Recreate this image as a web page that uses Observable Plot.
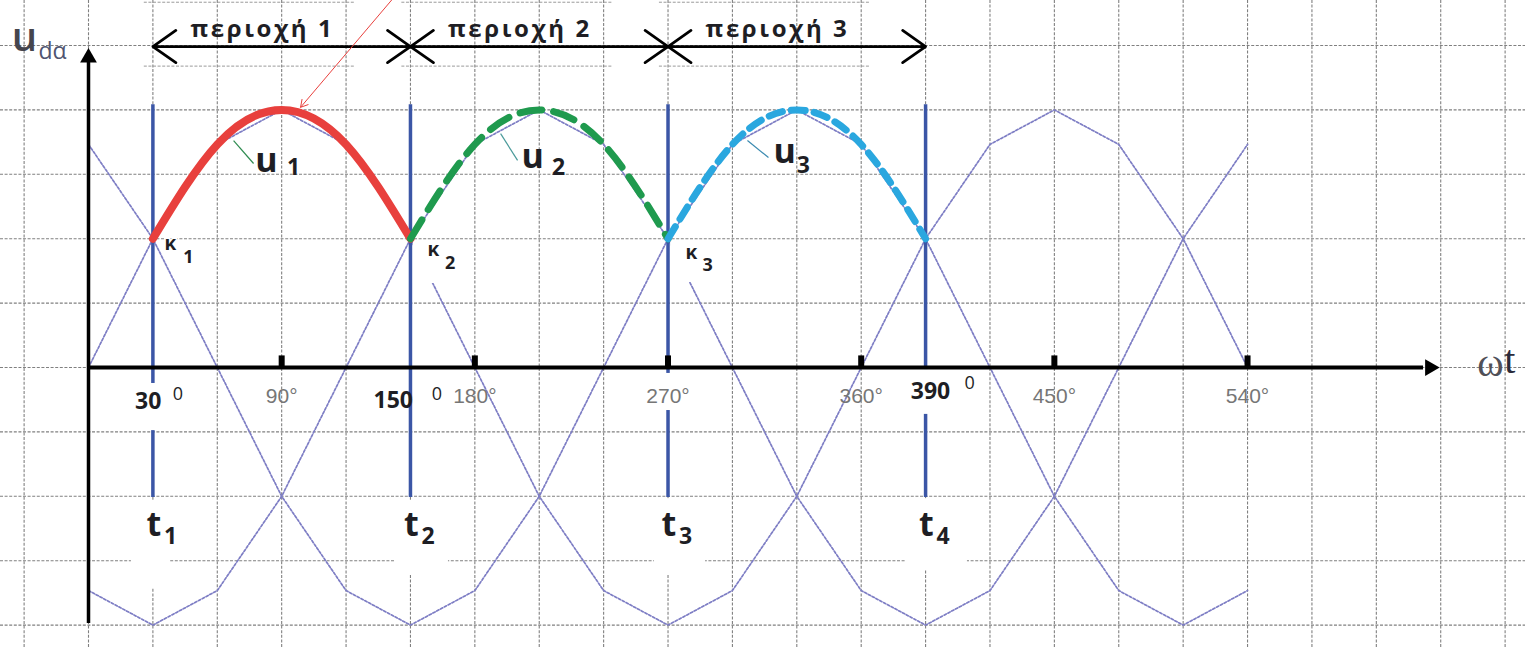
<!DOCTYPE html>
<html>
<head>
<meta charset="utf-8">
<script src="https://cdn.jsdelivr.net/npm/d3@7"></script>
<script src="https://cdn.jsdelivr.net/npm/@observablehq/plot@0.6"></script>
<style>
  html, body { margin: 0; padding: 0; background: #fff; }
  #chart svg { display: block; }
</style>
</head>
<body>
<div id="chart"></div>
<script>
// Phase angle ωt in degrees, one sample every 30°
const angles = [0, 30, 60, 90, 120, 150, 180, 210, 240, 270, 300, 330, 360, 390, 420, 450, 480, 510, 540];
// Per-unit phase voltages u1, u2, u3 at those angles
const phase1 = [0, 0.5, 0.866, 1, 0.866, 0.5, 0, -0.5, -0.866, -1, -0.866, -0.5, 0, 0.5, 0.866, 1, 0.866, 0.5, 0];
const phase2 = [-0.866, -1, -0.866, -0.5, 0, 0.5, 0.866, 1, 0.866, 0.5, 0, -0.5, -0.866, -1, -0.866, -0.5, 0, 0.5, 0.866];
const phase3 = [0.866, 0.5, 0, -0.5, -0.866, -1, -0.866, -0.5, 0, 0.5, 0.866, 1, 0.866, 0.5, 0, -0.5, -0.866, -1, -0.866];

// Commutation instants t1..t4 (degrees) and the conduction regions between them
const switchAngles = [30, 150, 270, 390];
const switchNames = ["1", "2", "3", "4"];
const regionStart = [30, 150, 270];
const regionEnd = [150, 270, 390];
const regionNames = ["περιοχή 1", "περιοχή 2", "περιοχή 3"];

// Axis ticks on ωt
const degreeTicks = [90, 180, 270, 360, 450, 540];
const degreeTickLabels = ["90°", "180°", "270°", "360°", "450°", "540°"];

// Squared paper: one column per 30°, one row per 0.25 p.u.
const gridAngles = [-30, 0, 30, 60, 90, 120, 150, 180, 210, 240, 270, 300, 330, 360, 390, 420, 450, 480, 510, 540, 570, 600, 630, 660];
const gridLevels = [-1, -0.75, -0.5, -0.25, 0, 0.25, 0.5, 0.75, 1, 1.25];

// ---- tables built from the arrays above ----
const phases = [phase1, phase2, phase3];
const phaseRows = phases.flatMap((vals, p) => angles.map((a, i) => ({a, v: vals[i], phase: p + 1})));
const conducting = (p) => angles
  .map((a, i) => ({a, v: phases[p][i]}))
  .filter(d => d.a >= regionStart[p] && d.a <= regionEnd[p]);
const u1Rows = conducting(0), u2Rows = conducting(1), u3Rows = conducting(2);

const regions = regionNames.map((name, i) => ({name, start: regionStart[i], end: regionEnd[i], mid: (regionStart[i] + regionEnd[i]) / 2}));
const regionArrows = regions.flatMap(r => [{x1: r.mid, x2: r.start}, {x1: r.mid, x2: r.end}]);
const ticks = degreeTicks.map((a, i) => ({a, label: degreeTickLabels[i]}));

const ARROW_Y = 1.246;
const font = "'Open Sans', 'Noto Sans', sans-serif";
const dark = "#1e1e24";

// White patches where labels sit over the drawing
const masks = [
  {x1: 151.4, x2: 174.2, y1: 0.326, y2: 0.493},   // around κ2
  {x1: 271.2, x2: 293.5, y1: 0.330, y2: 0.485},   // around κ3
  {x1: 19.6,  x2: 48.5,  y1: -0.245, y2: -0.062}, // 30⁰
  {x1: 259.5, x2: 280.5, y1: -0.167, y2: -0.023}, // 270°
  {x1: 380.7, x2: 418.5, y1: -0.182, y2: -0.008}, // 390⁰
  {x1: 20.0,  x2: 38.2,  y1: -0.858, y2: -0.516}, // t1
  {x1: 143.0, x2: 167.7, y1: -0.807, y2: -0.516}, // t2
  {x1: 263.7, x2: 287.5, y1: -0.807, y2: -0.509}, // t3
  {x1: 381.1, x2: 409.5, y1: -0.788, y2: -0.509}  // t4
];

function label(x, y, text, opts = {}) {
  return Plot.text([{x, y, text}], {x: "x", y: "y", text: "text", fontFamily: font, fill: dark, ...opts});
}

const gridStyle = {stroke: "#808080", strokeWidth: 1.1, strokeDasharray: "3,1.6"};

const chart = Plot.plot({
  width: 1525,
  height: 648,
  margin: 0,
  x: {domain: [-41, 669.5], axis: null},
  y: {domain: [-1.0908, 1.4247], axis: null},
  style: {background: "white"},
  marks: [
    // paper grid
    Plot.ruleX(gridAngles, gridStyle),
    Plot.ruleY(gridLevels, gridStyle),
    // outlines of the region caption boxes
    Plot.ruleY(regions, {y: 1.418, x1: d => d.start - 4, x2: d => d.mid + 34, stroke: "#9a9a9a", strokeWidth: 1, strokeDasharray: "3,1.6"}),
    Plot.ruleY(regions, {y: 1.17, x1: d => d.start - 4, x2: d => d.mid + 34, stroke: "#9a9a9a", strokeWidth: 1, strokeDasharray: "3,1.6"}),

    // the three phase voltages
    Plot.line(phaseRows, {x: "a", y: "v", z: "phase", stroke: "#7d7dc4", strokeWidth: 1.7, strokeDasharray: "2.5,1.8"}),

    // commutation instants
    Plot.ruleX(switchAngles, {y1: -0.505, y2: 1.02, stroke: "#3b56a6", strokeWidth: 3.5}),

    Plot.rect(masks, {x1: "x1", x2: "x2", y1: "y1", y2: "y2", fill: "white"}),

    // axes
    Plot.ruleY([0], {x1: 0, x2: 622, stroke: "black", strokeWidth: 4}),
    Plot.dot([0], {x: 625, y: 0, symbol: "triangle2", rotate: 90, r: 8, fill: "black", stroke: "none"}),
    Plot.ruleX([0], {y1: -0.994, y2: 1.19, stroke: "black", strokeWidth: 3.5}),
    Plot.dot([0], {x: 0, y: 1.203, symbol: "triangle2", r: 8, fill: "black", stroke: "none"}),
    Plot.ruleX(ticks, {x: "a", y1: 0, y2: 0.045, stroke: "black", strokeWidth: 6}),

    // rectified output: the most positive phase in each region
    Plot.line(u1Rows, {x: "a", y: "v", stroke: "#e8403d", strokeWidth: 8, curve: "natural"}),
    Plot.line(u2Rows, {x: "a", y: "v", stroke: "#1f9a4e", strokeWidth: 7, strokeDasharray: "22,12", curve: "natural"}),
    Plot.line(u3Rows, {x: "a", y: "v", stroke: "#2aa7df", strokeWidth: 7, strokeDasharray: "14,9", curve: "natural"}),

    // region arrows and captions
    Plot.arrow(regionArrows, {x1: "x1", x2: "x2", y1: ARROW_Y, y2: ARROW_Y, stroke: "black", strokeWidth: 2.8, headLength: 15, headAngle: 70}),
    Plot.text(regions, {x: d => d.mid - 9, y: 1.312, text: "name", fontFamily: font, fontWeight: "bold", fontSize: 24, fill: dark}),

    // pointer to the peak of u1
    Plot.arrow([0], {x1: 141.6, y1: 1.43, x2: 98.8, y2: 1.01, stroke: "#e8403d", strokeWidth: 1, headLength: 12}),

    // leaders to the phase labels
    Plot.link([{x1: 67.6, y1: 0.881, x2: 76.9, y2: 0.792}], {x1: "x1", y1: "y1", x2: "x2", y2: "y2", stroke: "#2e8b50", strokeWidth: 1.2}),
    Plot.link([{x1: 192.0, y1: 0.908, x2: 199.9, y2: 0.804}], {x1: "x1", y1: "y1", x2: "x2", y2: "y2", stroke: "#4a9a9a", strokeWidth: 1.2}),
    Plot.link([{x1: 307.0, y1: 0.881, x2: 316.8, y2: 0.815}], {x1: "x1", y1: "y1", x2: "x2", y2: "y2", stroke: "#3a8ab0", strokeWidth: 1.2}),

    // phase labels u1, u2, u3
    label(82.9, 0.80, "u", {fontSize: 34, fontWeight: "bold"}),
    label(95.5, 0.776, "1", {fontSize: 23, fontWeight: "bold"}),
    label(206.9, 0.815, "u", {fontSize: 34, fontWeight: "bold"}),
    label(219.0, 0.776, "2", {fontSize: 23, fontWeight: "bold"}),
    label(324.3, 0.835, "u", {fontSize: 34, fontWeight: "bold"}),
    label(333.0, 0.784, "3", {fontSize: 23, fontWeight: "bold"}),

    // crossing points κ
    label(38.2, 0.481, "κ", {fontSize: 19, fontWeight: "bold", stroke: "white", strokeWidth: 3, paintOrder: "stroke"}),
    label(46.5, 0.43, "1", {fontSize: 18, fontWeight: "bold"}),
    label(160.7, 0.458, "κ", {fontSize: 19, fontWeight: "bold"}),
    label(168.5, 0.406, "2", {fontSize: 18, fontWeight: "bold"}),
    label(280.9, 0.446, "κ", {fontSize: 19, fontWeight: "bold"}),
    label(288.5, 0.396, "3", {fontSize: 18, fontWeight: "bold"}),

    // instants t1..t4 under the blue lines
    Plot.text(switchAngles, {x: d => d + 0.4, y: -0.612, text: () => "t", fontFamily: font, fontSize: 34, fontWeight: "bold", fill: dark}),
    Plot.text(switchAngles, {x: d => d + 8.2, y: -0.655, text: (d, i) => switchNames[i], fontFamily: font, fontSize: 23, fontWeight: "bold", fill: dark}),

    // angle labels on ωt
    Plot.text(ticks, {x: "a", y: -0.112, text: "label", fontFamily: "'Liberation Sans', Arial, sans-serif", fontSize: 21, fill: "#767676"}),
    label(27.8, -0.132, "30", {fontSize: 23, fontWeight: "bold"}),
    label(41.6, -0.105, "0", {fontSize: 18}),
    label(142.0, -0.128, "150", {fontSize: 23, fontWeight: "bold"}),
    label(162.3, -0.105, "0", {fontSize: 18}),
    label(392.3, -0.093, "390", {fontSize: 23, fontWeight: "bold"}),
    label(410.5, -0.062, "0", {fontSize: 18}),

    // axis titles
    label(653.2, 0.0155, "ω", {fontFamily: "'Liberation Serif', serif", fontSize: 40, fill: "#505058"}),
    label(662.2, 0.03, "t", {fontFamily: "'Liberation Serif', serif", fontSize: 40, fill: "#2a2a3a"}),
    label(-29.8, 1.277, "u", {fontSize: 40, fill: "#45454d", fontWeight: 600}),
    label(-16.8, 1.226, "dα", {fontSize: 23, fill: "#4f5470"})
  ]
});

// widen the region captions to the spacing of the drawing's lettering
d3.select(chart).selectAll("text")
  .filter(function () { return this.textContent.startsWith("περιοχή"); })
  .attr("letter-spacing", "2.6px");

document.getElementById("chart").append(chart);
</script>
</body>
</html>
